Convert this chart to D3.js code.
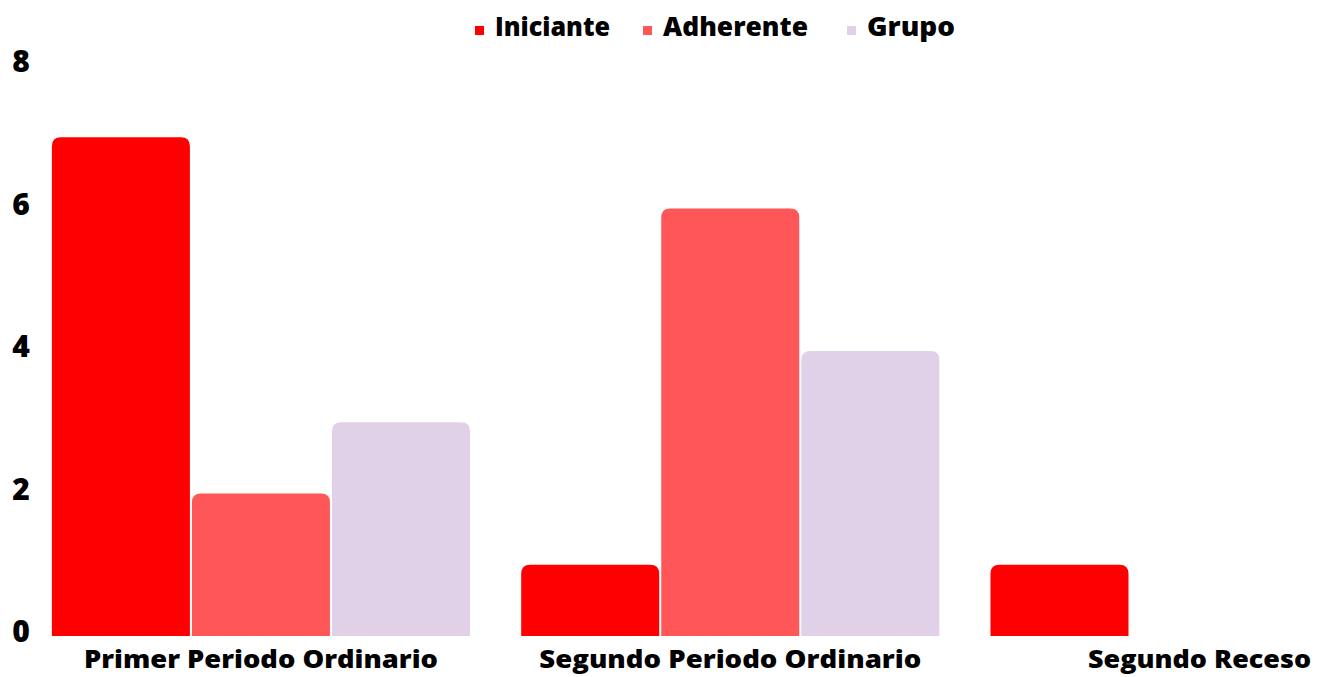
<!DOCTYPE html>
<html>
<head>
<meta charset="utf-8">
<script src="https://cdn.jsdelivr.net/npm/d3@7"></script>
<style>
  html, body { margin: 0; padding: 0; background: #fff; }
  svg { display: block; font-family: "Open Sans", "Lato", sans-serif; }
</style>
</head>
<body>
<svg id="chart" width="1324" height="677"></svg>
<script>
const categories = ["Primer Periodo Ordinario", "Segundo Periodo Ordinario", "Segundo Receso"];
const seriesNames = ["Iniciante", "Adherente", "Grupo"];
const iniciante = [7, 1, 1];
const adherente = [2, 6, 0];
const grupo = [3, 4, 0];
const yTicks = [0, 2, 4, 6, 8];
const colors = ["#FF0000", "#FF5757", "#E1D1E8"];

const seriesValues = [iniciante, adherente, grupo];
const data = categories.map((c, i) => ({
  category: c,
  values: seriesNames.map((s, j) => ({ series: s, value: seriesValues[j][i], color: colors[j] }))
}));

const svg = d3.select("#chart");
const FONT = "'Open Sans', Lato, sans-serif";

const y = d3.scaleLinear().domain([0, 8]).range([636, 66]);
const x0 = d3.scaleBand().domain(categories).range([26.3, 1434.2]).paddingInner(0.109).paddingOuter(0.0545);
const x1 = d3.scaleBand().domain(seriesNames).range([0, x0.bandwidth()]).paddingInner(0.0145);

function topRounded(x, yTop, w, h, r) {
  r = Math.min(r, h, w / 2);
  return `M${x},${yTop + h}V${yTop + r}Q${x},${yTop} ${x + r},${yTop}H${x + w - r}Q${x + w},${yTop} ${x + w},${yTop + r}V${yTop + h}Z`;
}

const g = svg.append("g");
const groups = g.selectAll("g.grp").data(data).join("g")
  .attr("class", "grp")
  .attr("transform", d => `translate(${x0(d.category)},0)`);

groups.selectAll("path").data(d => d.values.filter(v => v.value > 0)).join("path")
  .attr("d", v => topRounded(x1(v.series), y(v.value), x1.bandwidth(), y(0) - y(v.value), 9))
  .attr("fill", v => v.color);

// fit text to a target width (layout helper)
function fitWidth(sel, widthFn) {
  sel.each(function(d, i) {
    const w = widthFn(d, i);
    if (w) d3.select(this).attr("textLength", w).attr("lengthAdjust", "spacingAndGlyphs");
  });
}

// Y axis labels
const yAxis = d3.axisLeft(y).tickValues(yTicks).tickSize(0).tickFormat(d3.format("d"));
const ya = svg.append("g").attr("transform", "translate(32,-4)").call(yAxis);
ya.select(".domain").remove();
ya.selectAll("text")
  .attr("x", -11)
  .attr("text-anchor", "middle")
  .attr("font-family", FONT)
  .attr("font-weight", 800)
  .attr("font-size", 30)
  .attr("fill", "#000");

// X axis labels
const catWidths = [354, 382, 223];
const xAxis = d3.axisBottom(x0).tickSize(0);
const xa = svg.append("g").attr("transform", "translate(0,636)").call(xAxis);
xa.select(".domain").remove();
xa.selectAll("text")
  .attr("y", 14)
  .attr("dy", "0.71em")
  .attr("font-family", FONT)
  .attr("font-weight", 800)
  .attr("font-size", 25)
  .attr("fill", "#000");
fitWidth(xa.selectAll("text"), (d, i) => catWidths[i]);

// Legend
const legendItems = [
  { name: seriesNames[0], color: colors[0], x: 475, w: 115 },
  { name: seriesNames[1], color: colors[1], x: 643, w: 145 },
  { name: seriesNames[2], color: colors[2], x: 847, w: 88 }
];
const lg = svg.append("g");
const li = lg.selectAll("g").data(legendItems).join("g")
  .attr("transform", d => `translate(${d.x},0)`);
li.append("rect").attr("x", 0).attr("y", 26).attr("width", 9).attr("height", 9).attr("fill", d => d.color);
const lt = li.append("text").attr("x", 20).attr("y", 36)
  .attr("font-family", FONT)
  .attr("font-weight", 800)
  .attr("font-size", 27)
  .attr("fill", "#000")
  .text(d => d.name);
fitWidth(lt, d => d.w);
</script>
</body>
</html>
